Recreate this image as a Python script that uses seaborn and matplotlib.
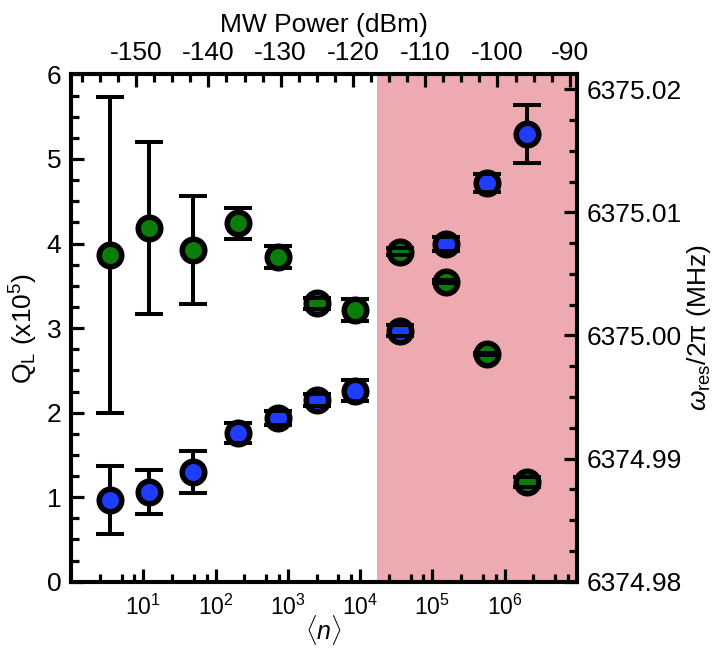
import numpy as np
import pandas as pd
import matplotlib
matplotlib.use('Agg')
import matplotlib.pyplot as plt
import seaborn as sns
from matplotlib.ticker import FixedLocator, MultipleLocator, LogLocator, NullFormatter, FuncFormatter, FormatStrFormatter

# ---------------- data ----------------
photon_number = [3.5, 12.1, 48, 207, 723, 2550, 8470, 35500, 154000, 573000, 2.01e6]
q_loaded = [0.967, 1.058, 1.295, 1.756, 1.934, 2.150, 2.260, 2.970, 3.996, 4.715, 5.298]
q_loaded_err = [0.40, 0.262, 0.247, 0.118, 0.083, 0.07, 0.127, 0.067, 0.08, 0.11, 0.345]
f_res = [6375.00654, 6375.00871, 6375.00695, 6375.00911, 6375.00635, 6375.00262,
         6375.00207, 6375.00681, 6375.00437, 6374.99850, 6374.98812]
f_res_err = [0.0128, 0.0070, 0.0044, 0.00125, 0.0009, 0.00045, 0.0009, 0.0003,
             0.0001, 0.0001, 0.0004]
shade_start = 17250          # <n> where the shaded high-power region starts
dbm_offset = -159.0          # MW power (dBm) at <n> = 1

x_ticks = [1e1, 1e2, 1e3, 1e4, 1e5, 1e6]
top_ticks = [-150, -140, -130, -120, -110, -100, -90]
left_ticks = [0, 1, 2, 3, 4, 5, 6]
right_ticks = [6374.98, 6374.99, 6375.00, 6375.01, 6375.02]

df_q = pd.DataFrame({'n': photon_number, 'Q': q_loaded, 'err': q_loaded_err})
df_f = pd.DataFrame({'n': photon_number, 'f': f_res, 'err': f_res_err})

# ---------------- style ----------------
sns.set_theme(style='ticks')
plt.rcParams['font.family'] = ['Liberation Sans', 'DejaVu Sans']
plt.rcParams['mathtext.fontset'] = 'custom'
plt.rcParams['mathtext.rm'] = 'Liberation Sans'
plt.rcParams['mathtext.it'] = 'Liberation Sans:italic'
plt.rcParams['mathtext.bf'] = 'Liberation Sans:bold'
plt.rcParams['text.color'] = 'black'
plt.rcParams['axes.labelcolor'] = 'black'
plt.rcParams['xtick.color'] = 'black'
plt.rcParams['ytick.color'] = 'black'

FS = 19
SPW = 2.9
BLUE = '#1F3DFF'
GREEN = '#0B7D0B'
SHADE = '#EDABB1'

fig = plt.figure(figsize=(7.19, 6.5), dpi=100)
ax = fig.add_axes([0.0988, 0.105, 0.7037, 0.7805])
ax.set_xscale('log')
xmin, xmax = 1.0, 1e7
ax.set_xlim(xmin, xmax)
ax.set_ylim(0, 6)
ax.set_facecolor('white')

ax.axvspan(shade_start, xmax, color=SHADE, zorder=0, lw=0)

def draw(axis, df, ycol, color):
    eb = axis.errorbar(df['n'], df[ycol], yerr=df['err'], fmt='none', ecolor='black',
                       elinewidth=2.9, capsize=10, capthick=2.9, zorder=2)
    sns.scatterplot(data=df, x='n', y=ycol, ax=axis, color=color, edgecolor='black',
                    linewidth=4, s=262, zorder=3, legend=False)
    for cl in eb[1]:
        cl.set_zorder(4)

draw(ax, df_q, 'Q', BLUE)

ax2 = ax.twinx()
ax2.set_ylim(6374.98, 6374.98 + 0.0412)
draw(ax2, df_f, 'f', GREEN)
ax2.set_xscale('log')
ax2.set_xlim(xmin, xmax)

ax3 = ax.twiny()
ax3.set_xlim(10 * np.log10(xmin) + dbm_offset, 10 * np.log10(xmax) + dbm_offset)

# ticks
ax.xaxis.set_major_locator(FixedLocator(x_ticks))
ax.xaxis.set_minor_locator(LogLocator(base=10, subs=[2.5, 5.0, 7.5], numticks=20))
ax.xaxis.set_major_formatter(FuncFormatter(lambda v, p: r'$10^{%d}$' % round(np.log10(v))))
ax.xaxis.set_minor_formatter(NullFormatter())
ax.yaxis.set_major_locator(FixedLocator(left_ticks))
ax.yaxis.set_minor_locator(MultipleLocator(0.25))
ax2.yaxis.set_major_locator(FixedLocator(right_ticks))
ax2.yaxis.set_minor_locator(MultipleLocator(0.0025))
ax2.yaxis.set_major_formatter(FormatStrFormatter('%.2f'))
ax3.xaxis.set_major_locator(FixedLocator(top_ticks))
ax3.xaxis.set_minor_locator(MultipleLocator(2.5))
ax3.xaxis.set_major_formatter(FuncFormatter(lambda v, p: '%d' % v))

for a in (ax, ax2, ax3):
    a.tick_params(which='major', direction='in', length=9.5, width=2.3, labelsize=FS, pad=7,
                  color='black', labelcolor='black')
    a.tick_params(which='minor', direction='in', length=5.5, width=2.3, color='black')
    for s in a.spines.values():
        s.set_linewidth(SPW)
        s.set_color('black')
    a.grid(False)

ax.tick_params(axis='x', which='both', top=False, bottom=True)
ax.tick_params(axis='x', which='major', labelsize=16.5, pad=9)
ax.tick_params(axis='y', which='both', right=False, left=True)
ax2.tick_params(axis='y', which='both', right=True, left=False)
ax3.tick_params(axis='x', which='both', top=True, bottom=False)

# labels
ax.set_xlabel(r'$\langle n\rangle$', fontsize=18, color='black')
ax.set_ylabel(r'Q$_{\rm L}$ (x10$^5$)', fontsize=FS, color='black')
ax2.set_ylabel(r'$\omega_{\rm res}$/2π (MHz)', fontsize=FS, color='black')
ax3.set_xlabel('MW Power (dBm)', fontsize=FS, color='black')
ax.xaxis.set_label_coords(0.5, -0.062)
ax.yaxis.set_label_coords(-0.062, 0.5)
ax2.yaxis.set_label_coords(1.213, 0.5)
ax3.xaxis.set_label_coords(0.5, 1.084)

fig.savefig('out.png', dpi=100)
